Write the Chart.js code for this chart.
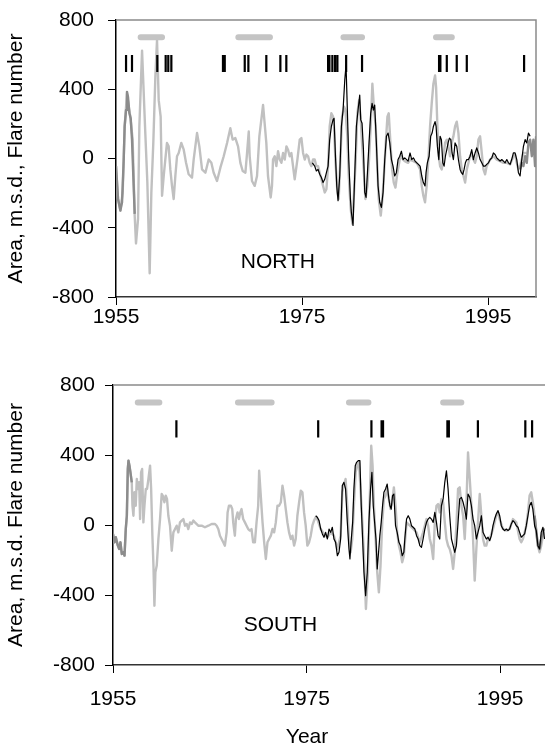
<!DOCTYPE html>
<html>
<head>
<meta charset="utf-8">
<script src="https://cdn.jsdelivr.net/npm/chart.js@4.4.0/dist/chart.umd.min.js"></script>
<style>
  body { margin: 0; background: #fff; width: 545px; height: 751px; overflow: hidden; position: relative; }
  #north { position: absolute; left: 0; top: 0; }
  #south { position: absolute; left: 0; top: 365px; }
</style>
</head>
<body>
<canvas id="north" width="545" height="340"></canvas>
<canvas id="south" width="560" height="386"></canvas>
<script>
// ---- data: [year, value] ----
const xTickYears = [1955, 1975, 1995];

// NORTH: sunspot area, light grey
const northArea = [[1955.0,-44],[1955.22,-234],[1955.47,-301],[1955.72,-196],[1955.93,185],[1956.18,375],[1956.37,299],[1956.54,242],[1956.79,109],[1957.01,-330],[1957.15,-491],[1957.37,-349],[1957.51,185],[1957.8,623],[1958.15,147],[1958.37,-139],[1958.62,-663],[1958.8,-196],[1959.01,90],[1959.23,470],[1959.41,684],[1959.59,337],[1959.8,242],[1959.95,-215],
  [1960.13,-101],[1960.3,-6],[1960.48,90],[1960.66,70],[1960.84,-63],[1961.02,-158],[1961.2,-234],[1961.38,-101],[1961.56,13],[1961.74,32],[1962.02,90],[1962.28,51],[1962.53,-25],[1962.81,-91],[1963.17,-110],[1963.35,-6],[1963.71,147],[1963.96,70],[1964.25,-63],[1964.61,-82],[1964.96,-6],[1965.25,-25],[1965.5,-82],[1965.86,-130],[1966.22,-53],[1966.58,13],[1966.94,90],[1967.29,175],[1967.54,109],[1967.83,118],[1968.12,70],[1968.37,-25],[1968.62,-72],[1968.91,-82],[1969.09,32],[1969.27,156],[1969.37,13],[1969.62,-130],[1969.91,-158],
  [1970.16,-101],[1970.41,128],[1970.81,309],[1971.16,90],[1971.34,-101],[1971.63,-225],[1971.77,-158],[1971.88,-6],[1972.06,13],[1972.24,-44],[1972.42,42],[1972.6,-6],[1972.78,-25],[1972.96,32],[1973.14,-6],[1973.32,70],[1973.49,51],[1973.67,13],[1973.85,32],[1974.03,-44],[1974.21,-120],[1974.5,-6],[1974.75,109],[1974.93,118],[1975.11,32],[1975.29,-6],[1975.47,23],[1975.65,13],[1975.82,-25],[1976.0,-44],[1976.18,-6],[1976.36,-6],[1976.54,-44],[1976.72,-44],[1976.9,-82],[1977.08,-120],[1977.26,-158],[1977.44,-196],[1977.62,-177],[1977.8,-44],[1977.97,185],
  [1978.15,261],[1978.33,242],[1978.44,185],[1978.58,-6],[1978.8,-196],[1978.94,-234],[1979.12,-6],[1979.3,242],[1979.52,299],[1979.66,280],[1979.87,128],[1980.02,-101],[1980.23,-291],[1980.41,-377],[1980.59,-196],[1980.77,-6],[1980.95,261],[1981.13,337],[1981.31,223],[1981.45,90],[1981.67,-101],[1981.81,-234],[1982.03,-158],[1982.2,-6],[1982.38,185],[1982.56,432],[1982.74,280],[1982.92,185],[1983.1,-63],[1983.24,-234],[1983.46,-330],[1983.64,-234],[1983.82,-82],[1984.0,90],[1984.18,242],[1984.32,261],[1984.5,90],[1984.68,-63],[1984.86,-139],
  [1985.04,-168],[1985.25,-82],[1985.5,-6],[1985.68,13],[1985.86,-6],[1986.04,-15],[1986.4,-25],[1986.61,-6],[1986.97,-15],[1987.33,-25],[1987.69,-63],[1987.87,-158],[1988.04,-215],[1988.22,-253],[1988.4,-158],[1988.58,-6],[1988.76,185],[1988.94,318],[1989.12,432],[1989.3,480],[1989.41,413],[1989.55,185],[1989.7,13],[1989.84,-44],[1990.02,-63],[1990.2,13],[1990.38,90],[1990.56,109],[1990.73,70],[1990.91,13],[1991.09,90],[1991.27,128],[1991.45,185],[1991.63,213],[1991.81,147],[1991.99,13],[1992.17,-63],[1992.35,-101],[1992.53,-139],[1992.71,-63],[1992.89,-25],
  [1993.06,13],[1993.24,32],[1993.42,-6],[1993.6,-25],[1993.78,13],[1993.96,109],[1994.14,128],[1994.32,32],[1994.5,-63],[1994.68,-91],[1994.85,-44],[1995.04,-25],[1995.22,-6],[1995.57,13],[1995.93,-6],[1996.29,-15],[1996.65,-25],[1997.01,-25],[1997.37,-34],[1997.72,13],[1997.9,23],[1998.08,-25],[1998.26,-63],[1998.44,-44],[1998.62,-6],[1998.8,32],[1999.16,32]];

// NORTH: second record (dark grey), only at both ends
const northAlt = [[1955.0,-44],[1955.22,-234],[1955.47,-301],[1955.65,-253],[1955.83,-6],[1955.93,185],[1956.08,280],[1956.18,385],[1956.29,356],[1956.44,261],[1956.58,232],[1956.72,109],[1956.9,-158],[1957.01,-320],
  [1977.0,null],
  [1998.44,-63],[1998.62,-25],[1998.8,-44],[1998.98,13],[1999.16,-25],[1999.34,90],[1999.52,109],[1999.7,13],[1999.87,109],[2000.05,-44],[2000.16,128]];

// NORTH: flare number (black)
const northFlare = [[1976.11,-25],[1976.36,-44],[1976.54,-72],[1976.72,-63],[1976.9,-91],[1977.08,-110],[1977.26,-139],[1977.44,-120],[1977.62,-82],[1977.8,-44],[1977.97,109],[1978.15,185],[1978.33,223],[1978.44,232],[1978.58,32],[1978.73,-158],[1978.87,-244],[1979.05,-101],[1979.23,185],[1979.41,280],[1979.59,451],[1979.73,540],[1979.87,280],[1980.02,-6],[1980.2,-234],[1980.3,-310],[1980.48,-387],[1980.66,-101],[1980.84,185],[1981.02,280],[1981.2,366],[1981.31,223],[1981.45,204],[1981.6,52],[1981.74,-196],[1981.88,-225],
  [1982.03,-82],[1982.2,90],[1982.38,261],[1982.53,318],[1982.67,280],[1982.81,309],[1982.99,90],[1983.17,-158],[1983.35,-253],[1983.53,-282],[1983.71,-196],[1983.89,-6],[1984.07,128],[1984.25,147],[1984.43,90],[1984.61,-6],[1984.78,-44],[1984.96,-101],[1985.14,-82],[1985.32,-6],[1985.5,13],[1985.68,42],[1985.86,-6],[1986.04,4],[1986.4,-15],[1986.61,32],[1986.79,-6],[1986.97,4],[1987.15,-15],[1987.33,-25],[1987.51,-34],[1987.69,-44],[1987.87,-101],[1988.04,-139],[1988.22,-158],[1988.33,-82],[1988.47,-25],[1988.66,13],[1988.83,128],[1988.98,147],
  [1989.12,185],[1989.3,213],[1989.41,185],[1989.55,70],[1989.7,-6],[1989.84,128],[1989.98,109],[1990.13,-25],[1990.27,-44],[1990.41,13],[1990.56,51],[1990.7,90],[1990.84,118],[1990.99,109],[1991.13,32],[1991.27,-6],[1991.45,90],[1991.63,70],[1991.81,-6],[1991.99,-63],[1992.13,-82],[1992.28,-91],[1992.42,-63],[1992.56,-25],[1992.71,-6],[1992.89,-6],[1993.06,13],[1993.24,51],[1993.42,-6],[1993.6,32],[1993.78,61],[1993.96,32],[1994.14,-6],[1994.32,-25],[1994.5,-44],[1994.68,-44],[1994.85,-34],
  [1995.04,-25],[1995.22,-6],[1995.4,4],[1995.57,32],[1995.75,23],[1995.93,4],[1996.11,-6],[1996.29,-15],[1996.47,-6],[1996.65,-15],[1996.83,-25],[1997.01,-6],[1997.19,-25],[1997.37,-34],[1997.54,-6],[1997.72,32],[1997.9,32],[1998.08,-6],[1998.26,-82],[1998.44,-101],[1998.62,-6],[1998.8,70],[1998.98,109],[1999.16,90],[1999.34,147],[1999.52,128]];

// NORTH: big-flare dates and solar-maximum periods
const northEvents = [1956.08,1956.72,1959.44,1960.34,1960.62,1960.95,1966.5,1966.69,1968.84,1969.23,1971.16,1972.67,1973.31,1977.8,1977.94,1978.26,1978.55,1978.8,1979.74,1981.45,1989.73,1989.87,1990.56,1991.63,1992.71,1998.87];
const northMaxima = [[1957.65,1959.95],[1968.15,1971.55],[1979.45,1981.45],[1989.4,1991.1]];

// SOUTH: sunspot area, light grey
const southArea = [[1955.0,-51],[1955.15,-99],[1955.29,-70],[1955.5,-118],[1955.64,-137],[1955.77,-99],[1955.91,-166],[1956.08,-156],[1956.19,-175],[1956.32,-23],[1956.43,53],[1956.53,320],[1956.6,368],[1956.7,339],[1956.8,301],[1956.94,244],[1957.01,110],[1957.11,53],[1957.22,187],[1957.35,110],[1957.46,263],[1957.56,206],[1957.7,244],[1957.8,34],[1957.9,301],[1958.01,320],[1958.14,15],[1958.25,110],[1958.39,206],[1958.52,206],[1958.66,263],[1958.83,339],[1958.94,206],
  [1959.07,-61],[1959.18,-232],[1959.28,-461],[1959.38,-270],[1959.52,-232],[1959.69,-80],[1959.86,34],[1960.03,177],[1960.14,168],[1960.31,130],[1960.45,168],[1960.58,149],[1960.72,53],[1960.89,-4],[1961.07,-147],[1961.24,-42],[1961.41,-23],[1961.58,-4],[1961.75,-42],[1961.92,15],[1962.1,25],[1962.27,34],[1962.44,-4],[1962.61,6],[1962.78,-23],[1962.96,15],[1963.13,6],[1963.3,25],[1963.47,15],[1963.81,-4],[1964.16,-4],[1964.5,-13],[1964.85,-4],[1965.19,6],[1965.54,6],[1965.71,-4],[1965.88,-23],
  [1966.05,-61],[1966.22,-80],[1966.39,-99],[1966.56,-118],[1966.74,-42],[1966.84,72],[1966.98,110],[1967.18,110],[1967.32,91],[1967.42,15],[1967.59,-61],[1967.7,34],[1967.87,72],[1968.01,34],[1968.15,72],[1968.28,91],[1968.45,34],[1968.63,15],[1968.8,-4],[1968.97,-23],[1969.14,-32],[1969.31,-23],[1969.48,-99],[1969.66,-99],[1969.83,15],[1970.0,110],[1970.1,310],[1970.45,15],[1970.62,-99],[1970.79,-194],[1970.96,-99],[1971.13,-80],[1971.31,-61],[1971.48,-23],[1971.65,-42],[1971.82,15],
  [1971.99,110],[1972.16,110],[1972.34,130],[1972.51,225],[1972.68,168],[1972.85,91],[1973.02,15],[1973.19,-42],[1973.37,-80],[1973.54,-61],[1973.71,-118],[1973.88,-80],[1974.05,53],[1974.23,130],[1974.4,196],[1974.57,187],[1974.74,72],[1974.91,-4],[1975.08,-118],[1975.26,-99],[1975.43,-61],[1975.6,-4],[1975.77,25],[1975.94,44],[1976.11,34],[1976.46,-23],[1976.8,-51],[1977.15,-70],[1977.49,-42],[1977.83,-61],[1978.18,-137],[1978.52,-61],[1978.69,187],[1978.86,225],[1979.03,263],
  [1979.21,110],[1979.38,-80],[1979.55,-156],[1979.72,-80],[1979.89,110],[1980.07,301],[1980.24,339],[1980.41,358],[1980.58,206],[1980.76,15],[1980.93,-175],[1981.13,-480],[1981.34,-270],[1981.51,110],[1981.68,453],[1981.82,339],[1981.96,110],[1982.13,-80],[1982.3,-270],[1982.47,-385],[1982.64,-232],[1982.82,15],[1982.99,149],[1983.16,168],[1983.33,206],[1983.5,149],[1983.68,91],[1983.85,130],[1984.02,215],[1984.19,110],[1984.36,-42],[1984.54,-118],[1984.71,-156],[1984.88,-213],[1985.05,-175],
  [1985.33,15],[1985.67,-4],[1986.01,-23],[1986.36,-42],[1986.7,-99],[1987.04,-42],[1987.39,34],[1987.56,-4],[1987.73,-80],[1987.9,-118],[1988.08,-194],[1988.25,15],[1988.42,110],[1988.59,120],[1988.76,72],[1988.93,149],[1989.11,130],[1989.28,15],[1989.45,-80],[1989.62,-118],[1989.79,-137],[1989.97,-175],[1990.14,-251],[1990.31,-156],[1990.48,-4],[1990.65,206],[1990.82,215],[1991.0,110],[1991.17,53],[1991.34,-80],[1991.51,110],[1991.68,415],[1991.86,263],[1992.03,110],[1992.2,-80],[1992.37,-318],
  [1992.54,-137],[1992.71,15],[1992.89,177],[1993.06,53],[1993.23,-80],[1993.4,-118],[1993.57,-118],[1993.75,-80],[1993.92,-80],[1994.26,-23],[1994.6,53],[1994.78,72],[1994.95,34],[1995.29,-23],[1995.64,-32],[1995.98,-23],[1996.32,34],[1996.67,15],[1997.01,-80],[1997.18,-99],[1997.35,-80],[1997.7,-4],[1997.87,72],[1998.04,168],[1998.21,187],[1998.38,130],[1998.56,53],[1998.73,-42],[1998.9,-118],[1999.07,-156],[1999.24,-118],[1999.42,-61],[1999.59,-40]];

// SOUTH: second record (dark grey)
const southAlt = [[1955.0,-51],[1955.15,-99],[1955.29,-70],[1955.5,-118],[1955.64,-137],[1955.77,-99],[1955.91,-166],[1956.08,-156],[1956.19,-175],[1956.32,-23],[1956.43,53],[1956.53,320],[1956.6,368],[1956.7,339],[1956.8,301],[1956.94,244],
  [1977.0,null],
  [1998.56,53],[1998.73,-32],[1998.9,-118],[1999.07,-137],[1999.24,-80],[1999.42,-40],[1999.6,-20]];

// SOUTH: flare number (black)
const southFlare = [[1975.94,53],[1976.11,44],[1976.29,25],[1976.46,-23],[1976.63,-51],[1976.8,-70],[1976.97,-42],[1977.15,-80],[1977.32,-23],[1977.49,-42],[1977.66,-13],[1977.83,-80],[1978.0,-99],[1978.18,-175],[1978.35,-156],[1978.52,-80],[1978.69,225],[1978.86,244],[1979.03,206],[1979.21,15],[1979.38,-137],[1979.48,-194],[1979.62,-80],[1979.76,15],[1979.89,206],[1980.03,339],[1980.17,358],[1980.34,368],[1980.51,368],[1980.65,110],[1980.79,-80],[1980.93,-270],[1981.1,-404],[1981.27,-270],[1981.44,15],[1981.61,206],[1981.75,301],[1981.89,110],
  [1982.03,15],[1982.17,-80],[1982.3,-251],[1982.44,-156],[1982.57,-61],[1982.71,15],[1982.85,110],[1982.99,187],[1983.16,206],[1983.33,234],[1983.5,149],[1983.61,110],[1983.74,91],[1983.88,168],[1984.02,177],[1984.19,-4],[1984.36,-42],[1984.54,-99],[1984.71,-118],[1984.88,-175],[1985.05,-156],[1985.15,-80],[1985.33,34],[1985.5,53],[1985.67,34],[1985.84,-4],[1986.01,-13],[1986.19,-23],[1986.36,-61],[1986.53,-80],[1986.7,-118],[1986.87,-128],[1987.04,-80],[1987.22,-23],[1987.39,15],[1987.56,34],[1987.73,44],[1987.9,34],
  [1988.08,15],[1988.25,72],[1988.42,15],[1988.59,-61],[1988.76,-80],[1988.93,110],[1989.11,149],[1989.28,244],[1989.45,310],[1989.62,206],[1989.79,53],[1989.97,-80],[1990.14,-118],[1990.31,-156],[1990.48,-118],[1990.65,15],[1990.82,149],[1991.0,158],[1991.17,130],[1991.34,91],[1991.51,34],[1991.68,177],[1991.86,158],[1992.03,110],[1992.2,34],[1992.37,-4],[1992.54,-80],[1992.71,-42],[1992.89,-4],[1993.06,53],[1993.23,-42],[1993.4,-61],[1993.57,-80],[1993.75,-70],[1993.92,-90],
  [1994.09,-61],[1994.26,-4],[1994.43,34],[1994.6,63],[1994.78,82],[1994.95,53],[1995.12,-4],[1995.29,-23],[1995.46,-32],[1995.64,-23],[1995.81,-32],[1995.98,-23],[1996.15,6],[1996.32,25],[1996.49,15],[1996.67,-4],[1996.84,-13],[1997.01,-42],[1997.18,-70],[1997.35,-61],[1997.53,-51],[1997.7,-4],[1997.87,53],[1998.04,110],[1998.21,130],[1998.38,91],[1998.56,-4],[1998.73,-32],[1998.9,-118],[1999.07,-137],[1999.24,-42],[1999.42,-13],[1999.59,-80]];

const southEvents = [1961.55,1976.2,1981.7,1982.75,1982.9,1989.55,1989.7,1992.7,1997.6,1998.3];
const southMaxima = [[1957.56,1959.79],[1967.91,1971.39],[1979.38,1981.39],[1989.11,1990.99]];

const eventRange = [500, 598];   // flare tick marks span
const maximaLevel = 700;         // height of the grey max bars
const xMin = 1955, xMax = 2000.15;

// ---- helpers ----
const FONT = '"Liberation Sans", Arial, sans-serif';

function toPoints(pairs) {
    return pairs.map(p => ({ x: p[0], y: p[1] }));
}

function tickSegments(years) {
    const pts = [];
    years.forEach(function (yr) {
        pts.push({ x: yr, y: eventRange[0] }, { x: yr, y: eventRange[1] }, { x: yr, y: null });
    });
    return pts;
}

function barSegments(periods) {
    const pts = [];
    periods.forEach(function (p) {
        pts.push({ x: p[0], y: maximaLevel }, { x: p[1], y: maximaLevel }, { x: p[1], y: null });
    });
    return pts;
}

// grey frame on top/right, panel name, optional x title
const panelPlugin = {
    id: 'panel',
    beforeDatasetsDraw(chart, args, opts) {
        const { ctx, chartArea: a } = chart;
        ctx.save();
        ctx.strokeStyle = '#8a8a8a';
        ctx.lineWidth = 1.5;
        ctx.beginPath();
        ctx.moveTo(a.left, a.top);
        ctx.lineTo(a.right, a.top);
        ctx.lineTo(a.right, a.bottom);
        ctx.stroke();
        ctx.restore();
    },
    afterDraw(chart, args, opts) {
        const { ctx, scales } = chart;
        ctx.save();
        ctx.fillStyle = '#000';
        ctx.textAlign = 'center';
        ctx.textBaseline = 'middle';
        ctx.font = '21px ' + FONT;
        ctx.fillText(opts.name, scales.x.getPixelForValue(opts.nameAt[0]), scales.y.getPixelForValue(opts.nameAt[1]));
        if (opts.xTitle) {
            ctx.fillText(opts.xTitle, scales.x.getPixelForValue(opts.xTitleAt), chart.chartArea.bottom + opts.xTitleDrop);
        }
        ctx.restore();
    }
};

function makeChart(id, cfg) {
    const ctx = document.getElementById(id).getContext('2d');
    return new Chart(ctx, {
        type: 'line',
        data: {
            datasets: [
                { data: tickSegments(cfg.events), borderColor: '#000', borderWidth: 2.2, spanGaps: false },
                { data: barSegments(cfg.maxima), borderColor: '#c4c4c4', borderWidth: 6, borderCapStyle: 'round', spanGaps: false },
                { data: toPoints(cfg.flare), borderColor: '#000', borderWidth: 1.2 },
                { data: toPoints(cfg.alt), borderColor: '#8c8c8c', borderWidth: 2.4, spanGaps: false },
                { data: toPoints(cfg.area), borderColor: '#c0c0c0', borderWidth: 2.4 }
            ]
        },
        options: {
            responsive: false,
            animation: false,
            parsing: false,
            elements: { point: { radius: 0 }, line: { tension: 0, borderJoinStyle: 'round' } },
            layout: { padding: { left: 0, top: 20, right: cfg.padRight, bottom: 0 } },
            plugins: {
                legend: { display: false },
                tooltip: { enabled: false },
                panel: { name: cfg.name, nameAt: cfg.nameAt, xTitle: cfg.xTitle, xTitleAt: 1975.05, xTitleDrop: 72 }
            },
            scales: {
                x: {
                    type: 'linear',
                    min: xMin,
                    max: xMax,
                    afterBuildTicks: function (s) { s.ticks = xTickYears.map(v => ({ value: v })); },
                    afterFit: function (s) { s.height = cfg.xAxisHeight; },
                    ticks: { color: '#000', font: { family: FONT, size: 21 }, padding: cfg.xTickPad, callback: v => String(v), maxRotation: 0 },
                    grid: { drawOnChartArea: false, drawTicks: true, tickLength: 8, color: '#000' },
                    border: { display: true, color: '#333', width: 1.5 }
                },
                y: {
                    min: -800,
                    max: 800,
                    afterFit: function (s) {
                        s.width = cfg.yAxisWidth;
                        s.paddingTop = 0;      // keep the plot top where the figure has it
                        s.paddingBottom = 0;
                    },
                    ticks: { stepSize: 400, color: '#000', font: { family: FONT, size: 21 }, padding: cfg.yTickPad },
                    grid: { drawOnChartArea: false, drawTicks: true, tickLength: 8, color: '#000' },
                    border: { display: true, color: '#000', width: 1.5 },
                    title: { display: true, text: cfg.yTitle, color: '#000', font: { family: FONT, size: 21 }, padding: { top: 4, bottom: 0 } }
                }
            }
        },
        plugins: [panelPlugin]
    });
}

makeChart('north', {
    area: northArea, alt: northAlt, flare: northFlare, events: northEvents, maxima: northMaxima,
    name: 'NORTH', nameAt: [1972.4, -600], yTitle: 'Area, m.s.d., Flare number',
    padRight: 9, yAxisWidth: 116, xAxisHeight: 43, xTickPad: 0, yTickPad: 14
});

makeChart('south', {
    area: southArea, alt: southAlt, flare: southFlare, events: southEvents, maxima: southMaxima,
    name: 'SOUTH', nameAt: [1972.3, -575], yTitle: 'Area, m.s.d. Flare number', xTitle: 'Year',
    padRight: 10, yAxisWidth: 113, xAxisHeight: 86, xTickPad: 14, yTickPad: 10
});
</script>
</body>
</html>
